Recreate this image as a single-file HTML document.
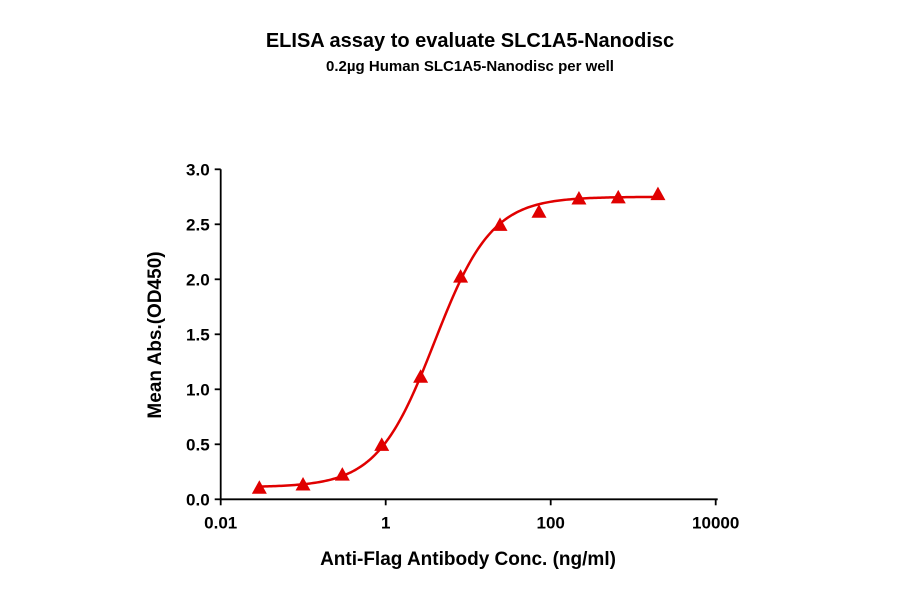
<!DOCTYPE html>
<html><head><meta charset="utf-8"><style>
body{margin:0;background:#fff;}
svg{display:block;font-family:"Liberation Sans",Arial,sans-serif;font-weight:bold;}
</style></head><body>
<svg id="chart" width="900" height="594">
<text x="470" y="47" text-anchor="middle" font-size="20">ELISA assay to evaluate SLC1A5-Nanodisc</text>
<text x="470" y="71" text-anchor="middle" font-size="15">0.2µg Human SLC1A5-Nanodisc per well</text>
<text transform="translate(161,335) rotate(-90)" text-anchor="middle" font-size="19">Mean Abs.(OD450)</text>
<text x="468" y="565" text-anchor="middle" font-size="19">Anti-Flag Antibody Conc. (ng/ml)</text>
<g id="axes"></g><g id="marks"></g>
</svg>
<script>
const concentrations=[0.0294,0.0995,0.298,0.895,2.65,8.09,24.3,72.1,220,659,1995];
const absorbance=[0.10,0.13,0.22,0.49,1.11,2.02,2.49,2.61,2.73,2.74,2.77];
const yTicks=[0,0.5,1.0,1.5,2.0,2.5,3.0];
const xTickLabels=["0.01","1","100","10000"];
const xTickValues=[0.01,1,100,10000];
const fitBottom=0.11, fitTop=2.75, fitEC50=3.9, fitHill=1.25;

const NS="http://www.w3.org/2000/svg";
const x0=220.7,y0=499.3,dec=82.5,unit=110;
function xs(v){return x0+(Math.log10(v)+2)*dec;}
function ys(v){return y0-v*unit;}
function mk(tag,attrs,parent){const e=document.createElementNS(NS,tag);for(const k in attrs)e.setAttribute(k,attrs[k]);parent.appendChild(e);return e;}
const axes=document.getElementById('axes'),marks=document.getElementById('marks');
let a=mk('line',{x1:x0,y1:ys(3),x2:x0,y2:y0,stroke:'#000','stroke-width':1.8},axes);


a=mk('line',{x1:x0,y1:y0,x2:xs(10000)+2,y2:y0,stroke:'#000','stroke-width':1.8},axes);


yTicks.forEach(v=>{
 const t=mk('line',{x1:x0-6,y1:ys(v),x2:x0,y2:ys(v),stroke:'#000','stroke-width':1.8},axes);
 
 
 const l=mk('text',{x:x0-11,y:ys(v)+6,'text-anchor':'end','font-size':17},axes);
 l.textContent=v.toFixed(1);
 
 
});
xTickValues.forEach((v,i)=>{
 const t=mk('line',{x1:xs(v),y1:y0,x2:xs(v),y2:y0+6,stroke:'#000','stroke-width':1.8},axes);
 
 
 const l=mk('text',{x:xs(v),y:y0+29,'text-anchor':'middle','font-size':17},axes);
 l.textContent=xTickLabels[i];
 
 
});
let d='';
const lo=Math.log10(concentrations[0]),hi=Math.log10(concentrations[concentrations.length-1]);
for(let i=0;i<=200;i++){const lx=lo+(hi-lo)*i/200,c=Math.pow(10,lx);
 const v=fitBottom+(fitTop-fitBottom)/(1+Math.pow(fitEC50/c,fitHill));
 d+=(i?'L':'M')+xs(c).toFixed(2)+','+ys(v).toFixed(2);}
const curve=mk('path',{d:d,fill:'none',stroke:'#e00000','stroke-width':2.5},marks);


concentrations.forEach((c,i)=>{
 const cx=xs(c),cy=ys(absorbance[i]);
 const p=mk('polygon',{points:`${cx},${cy-8} ${cx-7.5},${cy+5.5} ${cx+7.5},${cy+5.5}`,fill:'#e00000'},marks);
 
 
});
</script>
</body></html>
